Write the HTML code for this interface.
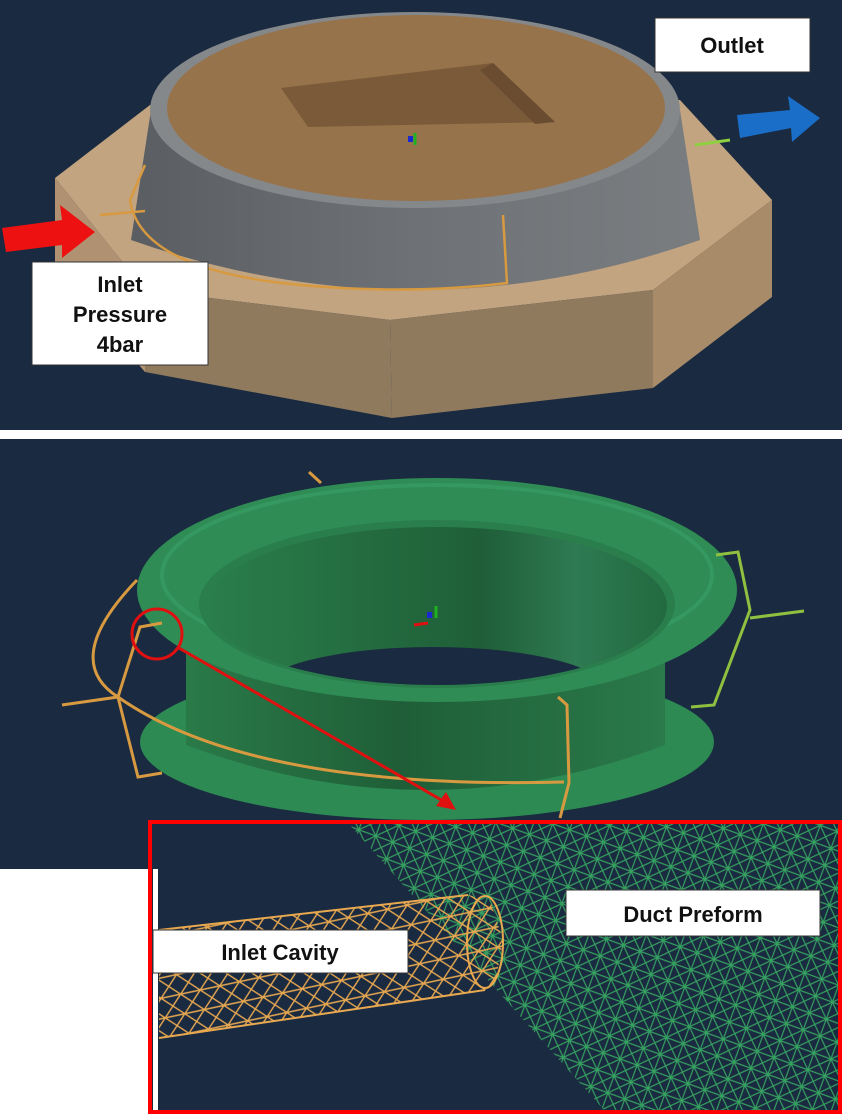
<!DOCTYPE html>
<html><head><style>
html,body{margin:0;padding:0;background:#fff;}
svg{display:block}
text{font-family:"Liberation Sans",sans-serif;font-weight:bold;}
</style></head><body>
<svg width="842" height="1114" viewBox="0 0 842 1114" xmlns="http://www.w3.org/2000/svg">
<defs>
<pattern id="gm" width="18" height="18" patternUnits="userSpaceOnUse" patternTransform="rotate(20)">
<path d="M0 0L18 18M18 0L0 18M0 9H18M9 0V18" stroke="#35a060" stroke-width="1.2" fill="none"/>
</pattern>
<pattern id="om" width="20" height="20" patternUnits="userSpaceOnUse" patternTransform="rotate(-12)">
<path d="M0 0L20 20M20 0L0 20M0 10H20" stroke="#e8a850" stroke-width="1.4" fill="none"/>
</pattern>
<linearGradient id="gr" x1="0" x2="1"><stop offset="0" stop-color="#5a5e62"/><stop offset="0.5" stop-color="#6e7276"/><stop offset="1" stop-color="#7a7d80"/></linearGradient>
<linearGradient id="gg" x1="0" x2="1"><stop offset="0" stop-color="#2a7a48"/><stop offset="0.45" stop-color="#1f5e38"/><stop offset="1" stop-color="#2a7a4a"/></linearGradient>
<linearGradient id="gi" x1="0" x2="1"><stop offset="0" stop-color="#2a7e4a"/><stop offset="0.6" stop-color="#1f5e38"/><stop offset="0.8" stop-color="#2e7a52"/><stop offset="1" stop-color="#226a40"/></linearGradient>
<clipPath id="ic"><ellipse cx="437" cy="606" rx="230" ry="79"/></clipPath>
</defs>
<!-- top panel -->
<rect x="0" y="0" width="842" height="430" fill="#1a2a40"/>
<polygon points="55,178 150,105 680,100 772,200 653,290 390,320 145,290" fill="#c2a480"/>
<polygon points="55,178 145,290 145,372 55,268" fill="#b09272"/>
<polygon points="145,290 390,320 392,418 145,372" fill="#8f7a5e"/>
<polygon points="390,320 653,290 653,388 392,418" fill="#8f7a5e"/>
<polygon points="653,290 772,200 772,297 653,388" fill="#a88c6a"/>
<path d="M151 110 L131 240 Q415 340 700 240 L680 110 Z" fill="url(#gr)"/>
<ellipse cx="415" cy="110" rx="265" ry="98" fill="#85888b"/>
<ellipse cx="416" cy="108" rx="249" ry="93" fill="#96734b"/>
<polygon points="281,88 493,63 555,122 308,127" fill="#7a5a38"/>
<polygon points="493,63 555,122 535,124 480,70" fill="#6a4d30"/>
<path d="M415 145 l0 -12" stroke="#20b020" stroke-width="3"/>
<rect x="408" y="136" width="5" height="6" fill="#1a2ad0"/>
<path d="M130 200 Q140 270 300 285 Q410 295 507 283 L503 215 M130 200 L145 165 M100 215 L145 211" stroke="#d89a40" stroke-width="2.5" fill="none"/>
<path d="M695 145 L730 140" stroke="#8fd040" stroke-width="3"/>
<polygon points="2,228 62,220 60,205 95,232 62,258 62,245 6,252" fill="#ee1111"/>
<polygon points="737,115 790,110 788,96 820,118 792,142 791,128 740,138" fill="#1a6ec8"/>
<rect x="655" y="18" width="155" height="54" fill="#fff" stroke="#333"/>
<text x="732" y="53" font-size="22" text-anchor="middle" fill="#111">Outlet</text>
<rect x="32" y="262" width="176" height="103" fill="#fff" stroke="#333"/>
<text x="120" y="292" font-size="22" text-anchor="middle" fill="#111">Inlet</text>
<text x="120" y="322" font-size="22" text-anchor="middle" fill="#111">Pressure</text>
<text x="120" y="352" font-size="22" text-anchor="middle" fill="#111">4bar</text>
<!-- bottom panel -->
<rect x="0" y="439" width="842" height="430" fill="#1a2a40"/>
<ellipse cx="427" cy="742" rx="287" ry="78" fill="#2d8a52"/>
<path d="M186 650 L186 745 Q427 835 665 745 L665 650 Z" fill="url(#gg)"/>
<path d="M309 472 L321 483" stroke="#d89a40" stroke-width="3"/>
<ellipse cx="437" cy="590" rx="300" ry="112" fill="#2f8c55"/>
<ellipse cx="437" cy="575" rx="275" ry="90" fill="none" stroke="#3aa068" stroke-width="4" opacity="0.6"/>
<ellipse cx="437" cy="604" rx="238" ry="84" fill="#2a7e4c"/>
<ellipse cx="437" cy="606" rx="230" ry="79" fill="url(#gi)"/>
<ellipse cx="433" cy="692" rx="175" ry="45" fill="#1a2a40" clip-path="url(#ic)"/>
<path d="M137 580 Q60 660 118 697 Q250 790 564 782 M162 623 L140 627 L118 697 L138 777 L162 773 M62 705 L118 697 M558 697 L567 705 L569 783 L560 818" stroke="#d89a40" stroke-width="3" fill="none"/>
<path d="M716 555 L738 552 L750 610 L714 705 L691 707 M750 618 L804 611" stroke="#8fc040" stroke-width="3" fill="none"/>
<path d="M436 618 l0 -12" stroke="#20b020" stroke-width="3"/>
<path d="M414 625 l14 -2" stroke="#e01010" stroke-width="3"/>
<rect x="427" y="612" width="5" height="6" fill="#1a2ad0"/>
<circle cx="157" cy="634" r="25" fill="none" stroke="#e01010" stroke-width="3"/>
<line x1="179" y1="648" x2="450" y2="805" stroke="#e01010" stroke-width="3"/>
<polygon points="456,810 436,806 446,792" fill="#e01010"/>
<!-- inset -->
<rect x="0" y="869" width="150" height="245" fill="#fff"/>
<rect x="150" y="822" width="690" height="290" fill="#1a2a40" stroke="#ff0000" stroke-width="4"/>
<rect x="153" y="869" width="5" height="241" fill="#fff"/>
<polygon points="349,824 838,824 838,1110 604,1110 494,987" fill="url(#gm)"/>
<polygon points="159,930 468,895 490,900 503,940 495,985 485,990 159,1038" fill="url(#om)"/>
<ellipse cx="485" cy="942" rx="18" ry="46" fill="none" stroke="#e8a850" stroke-width="2"/>
<path d="M159 930 L468 895 M159 1038 L485 990" stroke="#e8a850" stroke-width="2"/>
<rect x="566" y="890" width="254" height="46" fill="#fff" stroke="#333"/>
<text x="693" y="922" font-size="22" text-anchor="middle" fill="#111">Duct Preform</text>
<rect x="153" y="930" width="255" height="43" fill="#fff" stroke="#333"/>
<text x="280" y="960" font-size="22" text-anchor="middle" fill="#111">Inlet Cavity</text>
</svg>
</body></html>
